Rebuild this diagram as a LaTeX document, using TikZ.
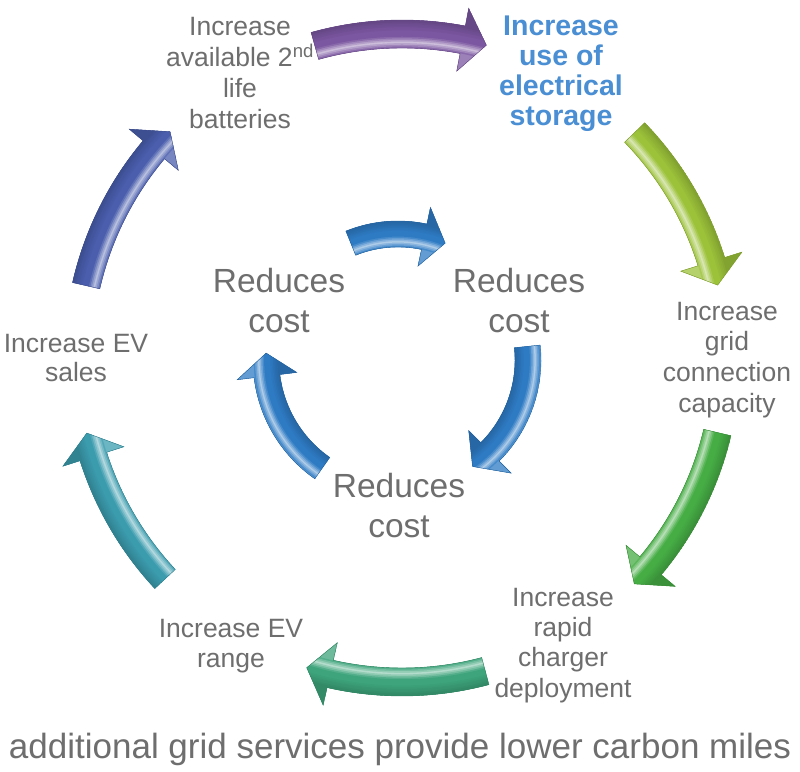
\documentclass[tikz,border=0pt]{standalone}
\usepackage{fontspec}
\setmainfont{Liberation Sans}
\usetikzlibrary{calc}
\definecolor{cPurple}{HTML}{7B56A1}
\definecolor{cLime}{HTML}{9CC23A}
\definecolor{cGreen}{HTML}{46AD45}
\definecolor{cSea}{HTML}{3DA47B}
\definecolor{cTeal}{HTML}{3B9CAE}
\definecolor{cSlate}{HTML}{4A5EAD}
\definecolor{cInner}{HTML}{2E7BC4}
\definecolor{txtgray}{HTML}{6E6E6E}
\definecolor{txtblue}{HTML}{4A8ED3}
% #1 centre, #2 radius, #3 tail angle, #4 tip angle, #5 shaft half width,
% #6 head half width, #7 head angular length, #8 colour, #9 highlight side (+1 inner, -1 outer)
\newcommand{\curvedarrow}[9]{%
  \pgfmathsetmacro\aRo{#2+#5}%
  \pgfmathsetmacro\aRi{#2-#5}%
  \pgfmathsetmacro\aHo{#2+#6}%
  \pgfmathsetmacro\aHi{#2-#6}%
  \pgfmathsetmacro\aHb{#4+#7}%
  \def\apath{($(#1)+(#3:\aRo)$) arc[start angle=#3, end angle=\aHb, radius=\aRo] -- ($(#1)+(\aHb:\aHo)$) -- ($(#1)+(#4:#2)$) -- ($(#1)+(\aHb:\aHi)$) -- ($(#1)+(\aHb:\aRi)$) arc[start angle=\aHb, end angle=#3, radius=\aRi] -- cycle}%
  \begin{scope}
    \clip \apath;
    \fill[#8] \apath;
    \foreach \k in {0,...,40}{%
      \pgfmathsetmacro\aRR{#2-#6+\k*2*#6/40}%
      \pgfmathsetmacro\aS{#9*(\aRR-#2)/#5}%
      \pgfmathtruncatemacro\aWh{\aS < -1 ? 25 : (\aS < -0.15 ? max(0,62*(1-abs(\aS+0.575)/0.425)) : 0)}%
      \pgfmathtruncatemacro\aBl{\aS > 1 ? 16 : (\aS > 0.2 ? 18*(\aS-0.2)/0.8 : 0)}%
      \pgfmathtruncatemacro\aPa{100-\aWh}%
      \pgfmathtruncatemacro\aPb{100-\aBl}%
      \pgfmathsetmacro\aLW{2*#6/40+0.7}%
      \draw[line width=\aLW, color=#8!\aPa!white!\aPb!black] (#1) circle[radius=\aRR];
    }%
  \end{scope}
  \draw[#8!80!black, line width=0.4] \apath;
}
\tikzset{
  lbl/.style={text=txtgray, align=center, inner sep=0pt, anchor=north},
  cost/.style={text=txtgray, align=center, inner sep=0pt, anchor=north,
    font=\fontsize{33.5}{40}\selectfont},
}
\begin{document}
\begin{tikzpicture}[x=1pt, y=1pt]
\useasboundingbox (0,0) rectangle (800,771);
\fill[white] (0,0) rectangle (800,771);
\coordinate (OC) at (402,413);
\coordinate (IC) at (398,411);

% outer cycle
\curvedarrow{OC}{324}{105.6}{74.9}{14}{32}{4.3}{cPurple}{1}
\curvedarrow{OC}{324}{44.1}{13.0}{14}{32}{4.3}{cLime}{1}
\curvedarrow{OC}{324}{-13.3}{-44.2}{14}{32}{4.3}{cGreen}{1}
\curvedarrow{OC}{324}{-75.1}{-107.1}{14}{32}{4.3}{cSea}{1}
\curvedarrow{OC}{324}{-137}{-166.6}{14}{32}{4.3}{cTeal}{1}
\curvedarrow{OC}{324}{167.1}{135.7}{14}{32}{4.3}{cSlate}{1}

% inner cycle
\curvedarrow{IC}{126}{112}{68}{13}{30}{10}{cInner}{1}
\curvedarrow{IC}{130}{6}{-55}{13}{30}{10}{cInner}{-1}
\curvedarrow{IC}{132}{235}{177}{13}{30}{10}{cInner}{-1}

% outer labels
\node[lbl, font=\fontsize{26.5}{31}\selectfont] (batt) at (240,754.2)
  {Increase\\available 2\textsuperscript{nd}\\life\\batteries};
\node[lbl, text=txtblue, font=\fontsize{28.5}{30}\bfseries] (stor) at (561,755.6)
  {Increase\\use of\\electrical\\storage};
\node[lbl, font=\fontsize{26.5}{30.7}\selectfont] (grid) at (727,469.2)
  {Increase\\grid\\connection\\capacity};
\node[lbl, font=\fontsize{26.5}{30.3}\selectfont] (rapid) at (563,183.2)
  {Increase\\rapid\\charger\\deployment};
\node[lbl, font=\fontsize{26.5}{30}\selectfont] (range) at (231,152.2)
  {Increase EV\\range};
\node[lbl, font=\fontsize{26.5}{29.5}\selectfont] (sales) at (76,437.2)
  {Increase EV\\sales};

% inner labels
\node[cost] (costL) at (279,503) {Reduces\\cost};
\node[cost] (costR) at (519,503) {Reduces\\cost};
\node[cost] (costB) at (399,298) {Reduces\\cost};

% caption
\node[text=txtgray, inner sep=0pt, anchor=base, font=\fontsize{35}{40}\selectfont] (caption) at (400,13)
  {additional grid services provide lower carbon miles};
\end{tikzpicture}
\end{document}
